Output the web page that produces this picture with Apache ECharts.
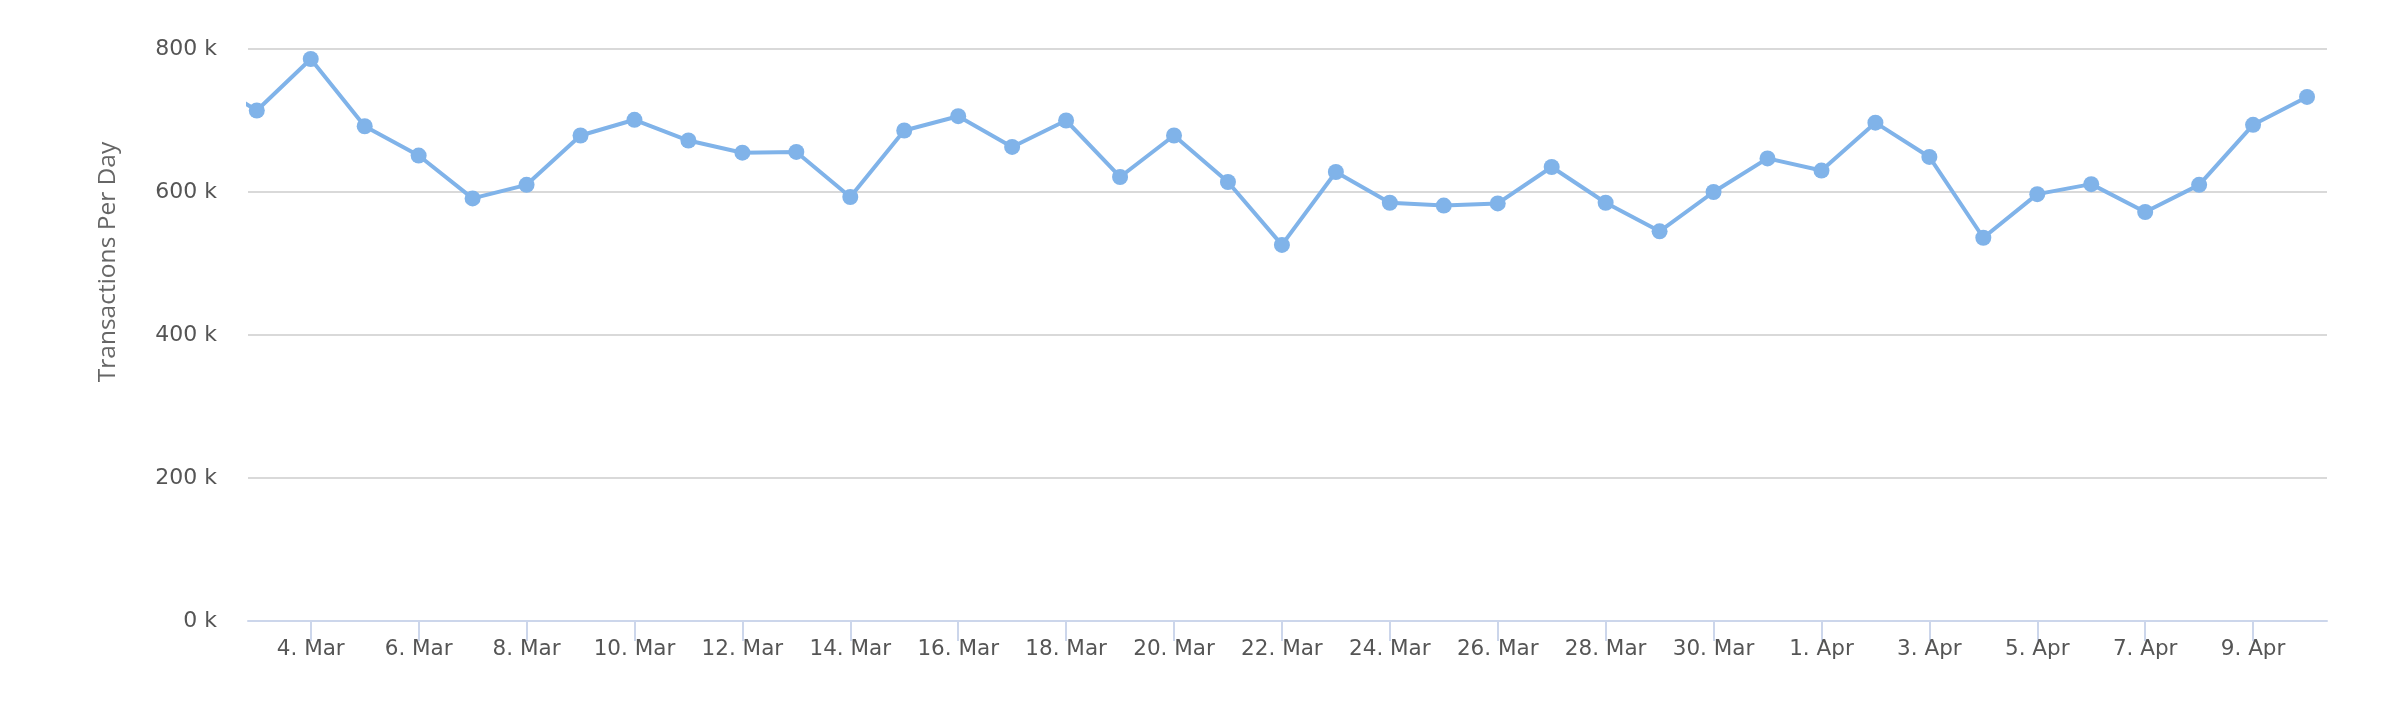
<!DOCTYPE html>
<html>
<head>
<meta charset="utf-8">
<script src="https://cdn.jsdelivr.net/npm/echarts@6/dist/echarts.min.js"></script>
<style>
html,body{margin:0;padding:0;background:#fff;}
#chart{width:2400px;height:706px;}
</style>
</head>
<body>
<div id="chart"></div>
<script>
const dates = ['2018-03-02','2018-03-03','2018-03-04','2018-03-05','2018-03-06','2018-03-07','2018-03-08','2018-03-09','2018-03-10','2018-03-11','2018-03-12','2018-03-13','2018-03-14','2018-03-15','2018-03-16','2018-03-17','2018-03-18','2018-03-19','2018-03-20','2018-03-21','2018-03-22','2018-03-23','2018-03-24','2018-03-25','2018-03-26','2018-03-27','2018-03-28','2018-03-29','2018-03-30','2018-03-31','2018-04-01','2018-04-02','2018-04-03','2018-04-04','2018-04-05','2018-04-06','2018-04-07','2018-04-08','2018-04-09','2018-04-10'];
const values = [760000,714000,786000,692000,651000,591000,610000,679000,701000,672000,655000,656000,593000,686000,706000,663000,700000,621000,679000,614000,526000,628000,585000,581000,584000,635000,585000,545000,600000,647000,630000,697000,649000,536000,597000,611000,572000,610000,694000,733000];
const tickDates = ['2018-03-04','2018-03-06','2018-03-08','2018-03-10','2018-03-12','2018-03-14','2018-03-16','2018-03-18','2018-03-20','2018-03-22','2018-03-24','2018-03-26','2018-03-28','2018-03-30','2018-04-01','2018-04-03','2018-04-05','2018-04-07','2018-04-09'];
const tickLabels = ['4. Mar','6. Mar','8. Mar','10. Mar','12. Mar','14. Mar','16. Mar','18. Mar','20. Mar','22. Mar','24. Mar','26. Mar','28. Mar','30. Mar','1. Apr','3. Apr','5. Apr','7. Apr','9. Apr'];
const yTicks = [0,200000,400000,600000,800000];
const yAxisTitle = 'Transactions Per Day';

const DAY = 86400000;
const dayNum = d => Date.parse(d + 'T00:00:00Z') / DAY;
const seriesData = dates.map((d,i)=>[dayNum(d), values[i]]);
const tickDays = tickDates.map(dayNum);
const labelMap = {};
tickDays.forEach((t,i)=>{labelMap[t]=tickLabels[i];});

const chart = echarts.init(document.getElementById('chart'), null, {renderer:'canvas'});
chart.setOption({
  animation:false,
  backgroundColor:'#ffffff',
  grid:{left:248,right:73,top:49,bottom:85,containLabel:false},
  xAxis:{
    type:'value',
    min: dayNum('2018-03-03') - 0.163,
    max: dayNum('2018-04-10') + 0.37,
    axisLine:{show:true,onZero:false,lineStyle:{color:'#ccd6eb',width:2}},
    axisTick:{show:true,customValues:tickDays,length:20,lineStyle:{color:'#ccd6eb',width:2}},
    axisLabel:{customValues:tickDays,formatter:v=>labelMap[Math.round(v)]||'',color:'#555555',fontFamily:'DejaVu Sans',fontSize:21.5,margin:17,showMinLabel:true,showMaxLabel:true},
    splitLine:{show:false}
  },
  yAxis:{
    type:'value',
    min:yTicks[0],max:yTicks[yTicks.length-1],interval:200000,
    axisLine:{show:false},axisTick:{show:false},
    axisLabel:{formatter:v=>(v/1000)+' k',color:'#555555',fontFamily:'DejaVu Sans',fontSize:22,margin:31},
    splitLine:{show:true,lineStyle:{color:'#d9d9d9',width:2}}
  },
  graphic:[{
    type:'text',
    x:108,y:262,rotation:Math.PI/2,
    style:{text:yAxisTitle,fill:'#666666',font:'24.5px "Open Sans"',align:'center',verticalAlign:'middle'}
  }],
  series:[{
    type:'line',
    data:seriesData,
    clip:true,
    symbol:'circle',
    symbolSize:16,
    showSymbol:true,
    lineStyle:{color:'#80b3e9',width:4},
    itemStyle:{color:'#80b3e9'}
  }]
});
</script>
</body>
</html>
